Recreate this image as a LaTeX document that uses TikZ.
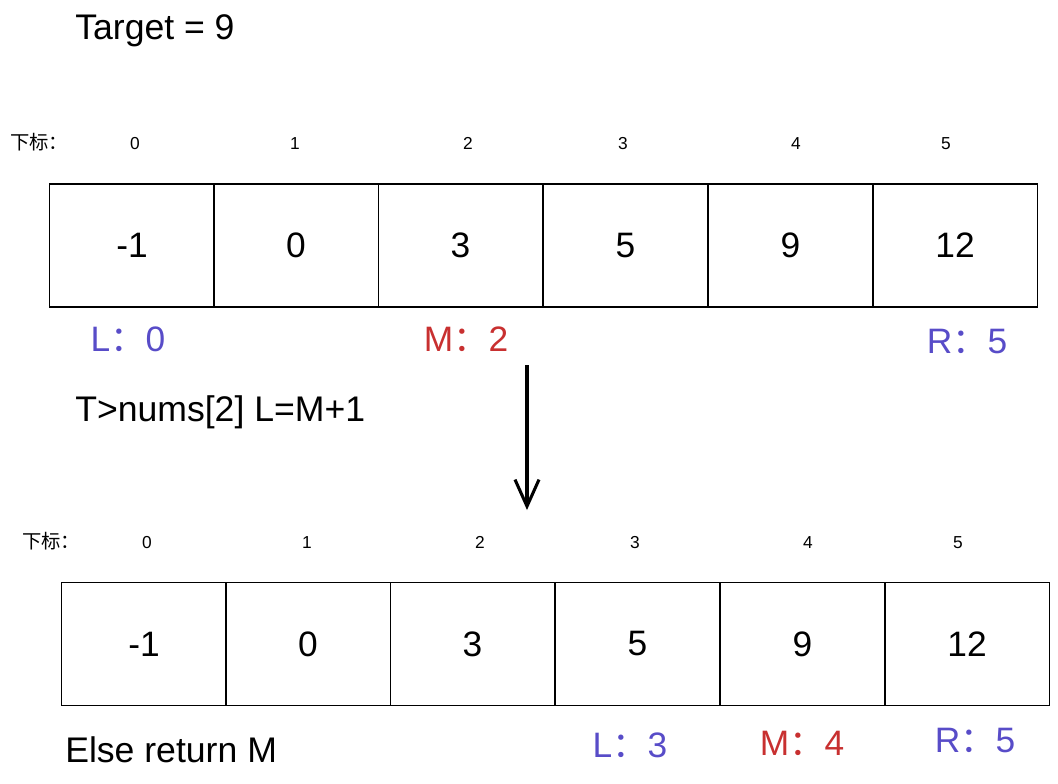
\documentclass[tikz,border=0pt]{standalone}
\usepackage{fontspec}
\setmainfont{Liberation Sans}
\newfontfamily\cjk{Noto Sans CJK SC}
\usetikzlibrary{arrows.meta}
\definecolor{lblue}{RGB}{88,76,200}
\definecolor{mred}{RGB}{200,48,48}
\tikzset{
  cell/.style={draw=black, line width=1.1pt, minimum width=123.4pt, minimum height=92pt, inner sep=0pt, font=\fontsize{26.5}{30}\selectfont},
  idx/.style={inner sep=0pt, anchor=base, font=\fontsize{13}{15}\selectfont},
  xbl/.style={inner sep=0pt, anchor=base west, font=\fontsize{14.5}{17}\selectfont},
  big/.style={inner sep=0pt, anchor=west, font=\fontsize{26.7}{30}\selectfont},
  lab/.style={inner sep=0pt, anchor=base, font=\fontsize{26.5}{30}\selectfont},
  flow/.style={line width=2.3pt, -{Straight Barb[length=20pt, width=18pt, line width=2.3pt]}}
}
\begin{document}
\begin{tikzpicture}[x=0.75pt, y=-0.75pt]
\useasboundingbox (0,0) rectangle (1058,783);
\node[big] (target) at (75,31) {Target = 9};
% row 1
\node[xbl] (xb1) at (10,149) {{\cjk 下标：}};
\foreach \i/\x in {0/135,1/295,2/468,3/623,4/796,5/946} {
  \node[idx] (i1\i) at (\x,149) {\i};
}
\foreach \i/\x/\v in {0/132/-1,1/296/0,2/460.5/3,3/625.5/5,4/790.5/9,5/955/12} {
  \node[cell] (a\i) at (\x,245.5) {\v};
}
\node[lab, text=lblue] (L1) at (128,351) {L{\cjk ：}0};
\node[lab, text=mred] (M1) at (466,351) {M{\cjk ：}2};
\node[lab, text=lblue] (R1) at (967,353) {R{\cjk ：}5};
\node[big] (cond) at (75,412) {T>nums[2] L=M+1};
% arrow
\coordinate (s) at (527,365);
\coordinate (e) at (527,510);
\draw[flow] (s) -- (e);
% row 2
\node[xbl] (xb2) at (22,548) {{\cjk 下标：}};
\foreach \i/\x in {0/147,1/307,2/480,3/635,4/808,5/958} {
  \node[idx] (i2\i) at (\x,548) {\i};
}
\foreach \i/\x/\v in {0/144/-1,1/308/0,2/472.5/3,3/637.5/5,4/802.5/9,5/967/12} {
  \node[cell] (b\i) at (\x,644) {\v};
}
\node[lab, text=lblue] (L2) at (630,757) {L{\cjk ：}3};
\node[lab, text=mred] (M2) at (802,755) {M{\cjk ：}4};
\node[lab, text=lblue] (R2) at (975,752) {R{\cjk ：}5};
\node[big] (els) at (65,750) {Else return M};
\end{tikzpicture}
\end{document}
